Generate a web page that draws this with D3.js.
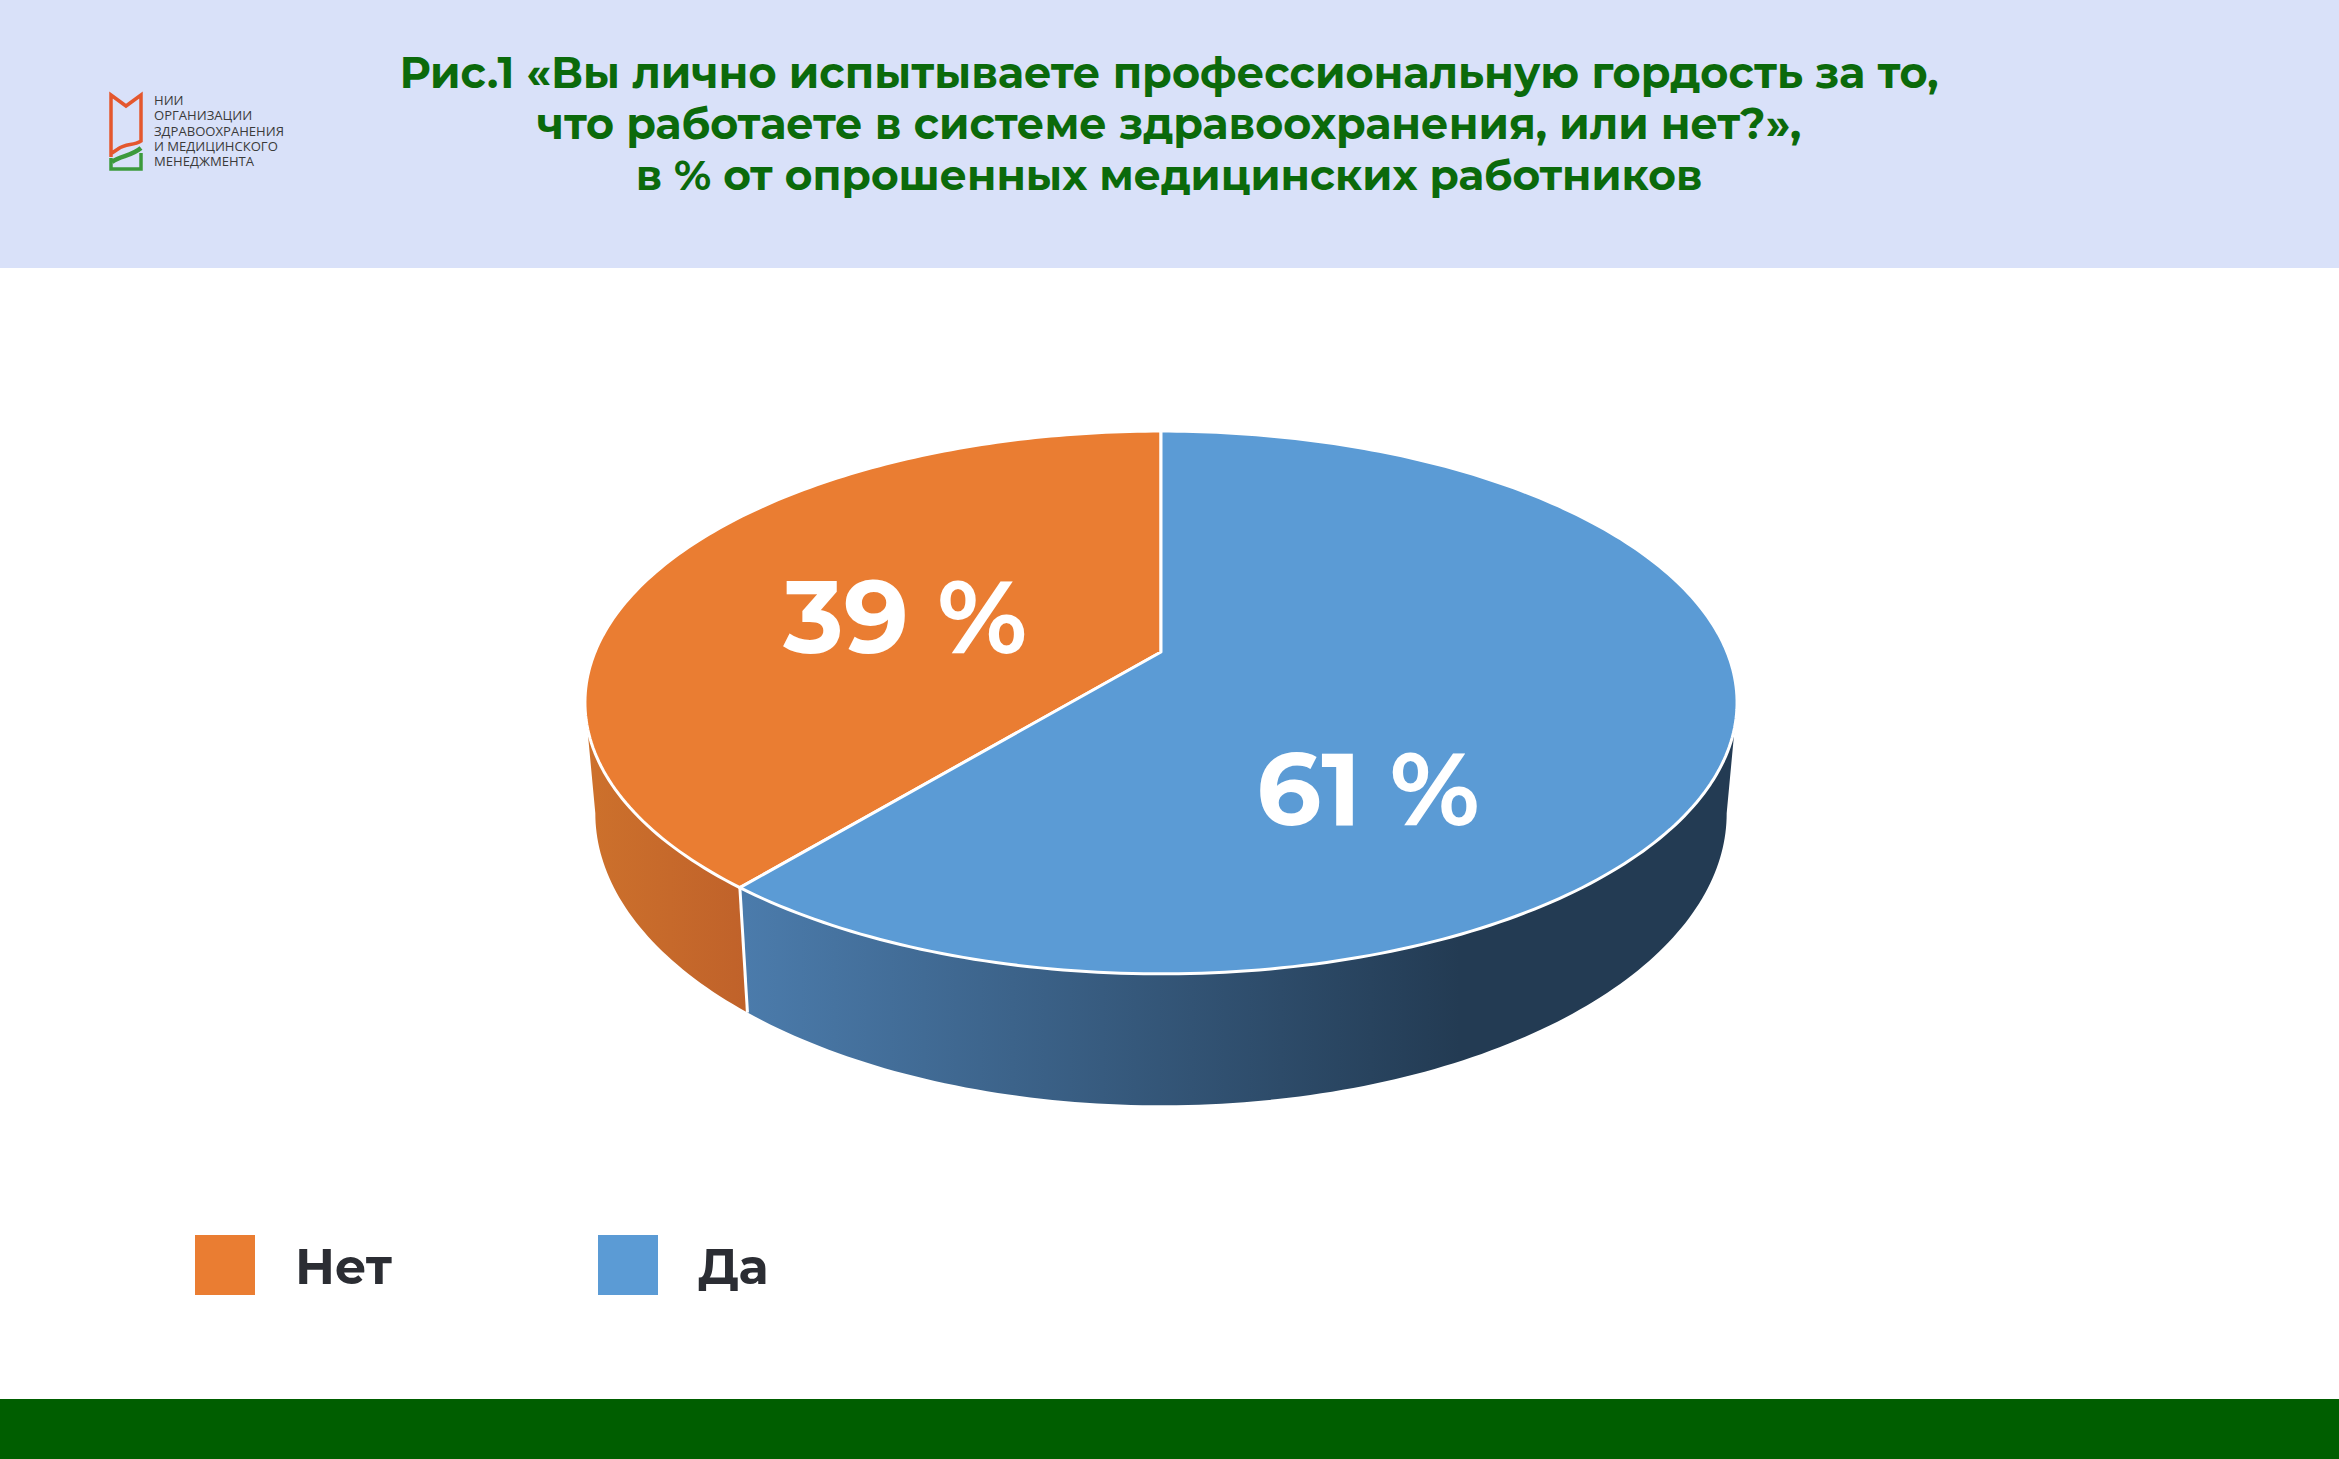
<!DOCTYPE html>
<html>
<head>
<meta charset="utf-8">
<script src="https://cdn.jsdelivr.net/npm/d3@7"></script>
<style>
  body { margin: 0; background: #fff; }
  svg { display: block; }
</style>
</head>
<body>
<div id="chart"></div>
<script>
// data
const categories = ["Нет", "Да"];
const values = [39, 61];
const valueLabels = ["39 %", "61 %"];
const titleLines = [
  "Рис.1 «Вы лично испытываете профессиональную гордость за то,",
  "что работаете в системе здравоохранения, или нет?»,",
  "в % от опрошенных медицинских работников"
];
const logoLines = ["НИИ", "ОРГАНИЗАЦИИ", "ЗДРАВООХРАНЕНИЯ", "И МЕДИЦИНСКОГО", "МЕНЕДЖМЕНТА"];

const width = 2339, height = 1459;
const font = "Montserrat, 'Open Sans', sans-serif";

const svg = d3.select("#chart")
  .append("svg")
  .attr("width", width)
  .attr("height", height)
  .attr("viewBox", [0, 0, width, height]);

// scale a text element so its width matches the width in the picture
function fitText(sel, target) {
  const len = sel.node().getComputedTextLength();
  const fs = parseFloat(sel.attr("font-size"));
  sel.attr("font-size", fs * target / len);
}

// header band and bottom bar
svg.append("rect").attr("width", width).attr("height", 268).attr("fill", "#d9e1f9");
svg.append("rect").attr("y", 1399).attr("width", width).attr("height", 60).attr("fill", "#005e00");

// title
const titleWidths = [1540, 1265, 1067];
const titleBase = [88, 139, 190];
titleLines.forEach((t, i) => {
  const txt = svg.append("text")
    .attr("x", 1169)
    .attr("y", titleBase[i])
    .attr("text-anchor", "middle")
    .attr("font-family", font)
    .attr("font-weight", 700)
    .attr("font-size", 44)
    .attr("fill", "#0b6a0b")
    .text(t);
  fitText(txt, titleWidths[i]);
});

// logo
const logo = svg.append("g");
logo.append("path")
  .attr("d", "M111,157 L111,95 L126,106 L141,95 L141,141 C133,146 126,143 118,149 L112,153")
  .attr("fill", "none").attr("stroke", "#e4572e").attr("stroke-width", 3.5)
  .attr("stroke-linejoin", "miter");
logo.append("path")
  .attr("d", "M111,158 L111,169 L141,169 L141,153")
  .attr("fill", "none").attr("stroke", "#3c9a3c").attr("stroke-width", 3.5);
logo.append("path")
  .attr("d", "M112,162 C121,155 130,157 141,148")
  .attr("fill", "none").attr("stroke", "#3c9a3c").attr("stroke-width", 4.5);
const logoText = logo.selectAll(".logo-line")
  .data(logoLines)
  .enter()
  .append("text")
    .attr("class", "logo-line")
    .attr("x", 154)
    .attr("y", (d, i) => 105 + i * 15.3)
    .attr("font-family", "'Open Sans', sans-serif")
    .attr("font-size", 15)
    .attr("fill", "#3a3a3a")
    .text(d => d);
const longest = d3.max(logoText.nodes(), n => n.getComputedTextLength());
logoText.attr("font-size", 15 * 130 / longest);

// pie geometry: perspective view of a flat cylinder
const cx = 1161, cy = 652;       // projected centre of the top face
const rx = 566, ry = 262;        // horizontal / vertical radius factors
const persp = 0.186;             // far side shrinks, near side grows
const depth = 107;               // wall height
const shrink = 0.018;            // bottom rim slightly narrower

function project(a, r, h) {
  const s = Math.sin(a) * r, c = Math.cos(a) * r;
  const w = 1 + persp * c;
  return [cx + rx * (1 - shrink * h) * s / w, cy - ry * c / w + depth * h / w];
}
function rim(a0, a1, h) {
  const n = Math.max(2, Math.ceil(Math.abs(a1 - a0) * 60));
  return d3.range(n + 1).map(i => project(a0 + (a1 - a0) * i / n, 1, h));
}

const color = d3.scaleOrdinal().domain(categories).range(["#ea7d32", "#5b9bd5"]);

const share0 = values[0] / d3.sum(values);
const pie = d3.pie()
  .sort(null)
  .value(d => d.value)
  .startAngle(-2 * Math.PI * share0)
  .endAngle(2 * Math.PI * (1 - share0));

const arcs = pie(categories.map((c, i) => ({ cat: c, value: values[i], label: valueLabels[i] })));

const line = d3.line();

// wall gradients
const defs = svg.append("defs");
const wallGrad = [
  { id: "wall-0", x1: 585, x2: 745, stops: ["#cd712c", "#c0622a"] },
  { id: "wall-1", x1: 745, x2: 1460, stops: ["#4b7bab", "#233b53"] }
];
wallGrad.forEach(g => {
  const lg = defs.append("linearGradient")
    .attr("id", g.id)
    .attr("gradientUnits", "userSpaceOnUse")
    .attr("x1", g.x1).attr("x2", g.x2).attr("y1", 0).attr("y2", 0);
  lg.append("stop").attr("offset", "0%").attr("stop-color", g.stops[0]);
  lg.append("stop").attr("offset", "100%").attr("stop-color", g.stops[1]);
});

// visible front part of the wall (between silhouette tangents)
const tan = Math.acos(-persp);
const vis0 = tan, vis1 = 2 * Math.PI - tan;

const walls = svg.append("g");
arcs.forEach((d, i) => {
  let a0 = d.startAngle, a1 = d.endAngle;
  if (a0 < -1e-9) { a0 += 2 * Math.PI; a1 += 2 * Math.PI; }
  const b0 = Math.max(a0, vis0), b1 = Math.min(a1, vis1);
  if (b1 <= b0) return;
  const pts = rim(b0, b1, 0).concat(rim(b1, b0, 1));
  walls.append("path")
    .attr("d", line(pts) + "Z")
    .attr("fill", `url(#wall-${i})`);
});

// white edge where the slices meet on the wall
const split = arcs[0].startAngle;
const sTop = project(split, 1, 0), sBot = project(split, 1, 1);
walls.append("line")
  .attr("x1", sTop[0]).attr("y1", sTop[1])
  .attr("x2", sBot[0]).attr("y2", sBot[1])
  .attr("stroke", "#fff").attr("stroke-width", 3);

// top faces
svg.append("g")
  .selectAll(".slice")
  .data(arcs)
  .enter()
  .append("path")
    .attr("class", "slice")
    .attr("d", d => line([project(0, 0, 0)].concat(rim(d.startAngle, d.endAngle, 0))) + "Z")
    .attr("fill", d => color(d.data.cat))
    .attr("stroke", "#fff")
    .attr("stroke-width", 3)
    .attr("stroke-linejoin", "round");

// value labels
const labelFrac = [0.48, 0.66];
const labelR = [0.485, 0.58];
svg.append("g")
  .selectAll(".val")
  .data(arcs)
  .enter()
  .append("text")
    .attr("class", "val")
    .attr("x", (d, i) => project(d.startAngle + (d.endAngle - d.startAngle) * labelFrac[i], labelR[i], 0)[0])
    .attr("y", (d, i) => project(d.startAngle + (d.endAngle - d.startAngle) * labelFrac[i], labelR[i], 0)[1])
    .attr("dy", "0.36em")
    .attr("text-anchor", "middle")
    .attr("font-family", font)
    .attr("font-weight", 700)
    .attr("font-size", 102)
    .attr("fill", "#fff")
    .text(d => d.data.label);

// legend
const legendX = d3.scaleOrdinal().domain(categories).range([195, 598]);
const legend = svg.append("g")
  .selectAll(".legend")
  .data(categories)
  .enter()
  .append("g")
    .attr("class", "legend")
    .attr("transform", d => `translate(${legendX(d)},1235)`);
legend.append("rect")
  .attr("width", 60).attr("height", 60)
  .attr("fill", d => color(d));
const legendText = legend.append("text")
  .attr("x", 100)
  .attr("y", 49)
  .attr("font-family", font)
  .attr("font-weight", 700)
  .attr("font-size", 52)
  .attr("fill", "#2b2d33")
  .text(d => d);
const netWidth = legendText.nodes()[0].getComputedTextLength();
legendText.attr("font-size", 52 * 97 / netWidth);
</script>
</body>
</html>
